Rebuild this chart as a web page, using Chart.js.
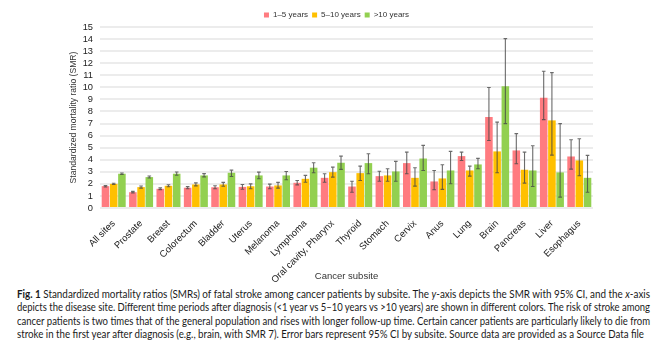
<!DOCTYPE html>
<html>
<head>
<meta charset="utf-8">
<script src="https://cdn.jsdelivr.net/npm/chart.js@4/dist/chart.umd.min.js"></script>
<style>
  html, body { margin: 0; padding: 0; background: #fff; }
  #wrap { position: relative; width: 662px; height: 348px; overflow: hidden; }
  #chart-box { position: absolute; left: 0; top: 0; width: 662px; height: 286px; }
  .cap {
    position: absolute; left: 17px; white-space: nowrap;
    font-family: Lato, "Liberation Sans", sans-serif; font-size: 10.8px; color: #1a1a1a;
    transform-origin: 0 0; line-height: 13px;
  }
</style>
</head>
<body>
<div id="wrap">
  <div id="chart-box"><canvas id="smrChart" width="662" height="286"></canvas></div>
  <div class="cap" data-w="633" style="top:287px"><b>Fig. 1</b> Standardized mortality ratios (SMRs) of fatal stroke among cancer patients by subsite. The <i>y</i>-axis depicts the SMR with 95% CI, and the <i>x</i>-axis</div>
  <div class="cap" data-w="633" style="top:300px">depicts the disease site. Different time periods after diagnosis (&lt;1 year vs 5–10 years vs &gt;10 years) are shown in different colors. The risk of stroke among</div>
  <div class="cap" data-w="633" style="top:313.5px">cancer patients is two times that of the general population and rises with longer follow-up time. Certain cancer patients are particularly likely to die from</div>
  <div class="cap" data-w="627" style="top:327px">stroke in the first year after diagnosis (e.g., brain, with SMR 7). Error bars represent 95% CI by subsite. Source data are provided as a Source Data file</div>
</div>
<script>
const subsites = ["All sites", "Prostate", "Breast", "Colorectum", "Bladder", "Uterus", "Melanoma", "Lymphoma",
  "Oral cavity, Pharynx", "Thyroid", "Stomach", "Cervix", "Anus", "Lung", "Brain", "Pancreas", "Liver", "Esophagus"];

const periods = ["1–5 years", "5–10 years", ">10 years"];

const smrEarly = [1.81, 1.31, 1.59, 1.68, 1.72, 1.75, 1.78, 2.09, 2.5, 1.78, 2.64, 3.72, 2.2, 4.3, 7.54, 4.77, 9.14, 4.27];
const ciEarlyLo = [1.75, 1.25, 1.52, 1.6, 1.6, 1.55, 1.6, 1.92, 2.14, 1.31, 2.22, 2.84, 1.51, 3.94, 5.6, 3.67, 7.32, 3.22];
const ciEarlyHi = [1.87, 1.38, 1.67, 1.77, 1.85, 1.95, 1.98, 2.28, 2.84, 2.22, 3.05, 4.63, 3.11, 4.63, 9.98, 6.16, 11.33, 5.66];

const smrMid = [2.0, 1.73, 1.84, 1.95, 1.95, 1.8, 1.87, 2.42, 2.97, 2.89, 2.7, 2.5, 2.45, 3.11, 4.69, 3.17, 7.26, 3.94];
const ciMidLo = [1.95, 1.65, 1.76, 1.83, 1.8, 1.6, 1.65, 2.14, 2.56, 2.28, 2.22, 1.81, 1.54, 2.64, 2.92, 2.06, 4.38, 2.67];
const ciMidHi = [2.05, 1.82, 1.93, 2.08, 2.12, 2.0, 2.12, 2.7, 3.39, 3.47, 3.25, 3.34, 3.58, 3.47, 7.12, 4.63, 11.22, 5.74];

const smrLate = [2.84, 2.56, 2.84, 2.7, 2.92, 2.7, 2.7, 3.34, 3.75, 3.72, 3.03, 4.1, 3.11, 3.61, 10.08, 3.11, 2.95, 2.5];
const ciLateLo = [2.78, 2.48, 2.72, 2.58, 2.61, 2.42, 2.34, 2.92, 3.2, 2.84, 2.22, 3.11, 2.01, 3.25, 6.99, 1.78, 0.9, 1.31];
const ciLateHi = [2.9, 2.65, 2.98, 2.85, 3.14, 2.97, 3.03, 3.75, 4.3, 4.5, 3.86, 5.19, 4.69, 4.11, 14.04, 5.16, 6.99, 4.36];

const yTicks = [0, 1, 2, 3, 4, 5, 6, 7, 8, 9, 10, 11, 12, 13, 14, 15];

const FONT = "'Liberation Sans', Arial, sans-serif";

// draws 95% CI whiskers on top of each bar
const errorBars = {
  id: "errorBars",
  afterDatasetsDraw(chart) {
    const ctx = chart.ctx;
    const y = chart.scales.y;
    ctx.save();
    chart.data.datasets.forEach((ds, i) => {
      const meta = chart.getDatasetMeta(i);
      meta.data.forEach((bar, j) => {
        const top = y.getPixelForValue(ds.ciHi[j]);
        const bottom = y.getPixelForValue(ds.ciLo[j]);
        ctx.strokeStyle = "rgba(70,70,70,0.8)";
        ctx.lineWidth = 1.1;
        ctx.beginPath();
        ctx.moveTo(bar.x, top);
        ctx.lineTo(bar.x, bottom);
        ctx.moveTo(bar.x - 1.8, top);
        ctx.lineTo(bar.x + 1.8, top);
        ctx.moveTo(bar.x - 1.8, bottom);
        ctx.lineTo(bar.x + 1.8, bottom);
        ctx.stroke();
      });
    });
    ctx.restore();
  }
};

// tighter space under the legend, and nudge it right over the bars
const legendTweak = {
  id: "legendTweak",
  afterInit(chart) {
    const fit = chart.legend.fit;
    chart.legend.fit = function () {
      fit.call(this);
      this.height -= 2;
    };
  },
  afterLayout(chart) {
    chart.legend.left += 6;
    chart.legend.right += 6;
  }
};

function makeDataset(label, data, lo, hi, color) {
  return {
    label,
    data,
    ciLo: lo,
    ciHi: hi,
    backgroundColor: color,
    borderWidth: 0,
    categoryPercentage: 0.9,
    barPercentage: 0.92
  };
}

new Chart(document.getElementById("smrChart").getContext("2d"), {
  type: "bar",
  data: {
    labels: subsites,
    datasets: [
      makeDataset(periods[0], smrEarly, ciEarlyLo, ciEarlyHi, "#ff7b80"),
      makeDataset(periods[1], smrMid, ciMidLo, ciMidHi, "#ffc000"),
      makeDataset(periods[2], smrLate, ciLateLo, ciLateHi, "#92d050")
    ]
  },
  options: {
    responsive: false,
    animation: false,
    devicePixelRatio: 1,
    layout: { padding: { left: 68, right: 69, top: 7, bottom: 2 } },
    plugins: {
      legend: {
        position: "top",
        labels: {
          boxWidth: 5,
          boxHeight: 5,
          padding: 4,
          font: { family: FONT, size: 8 },
          color: "#333"
        }
      },
      tooltip: { enabled: false }
    },
    scales: {
      x: {
        grid: { display: false },
        border: { display: false },
        ticks: {
          minRotation: 45,
          maxRotation: 45,
          autoSkip: false,
          padding: 2,
          font: { family: FONT, size: 9.5 },
          color: "#222"
        },
        title: {
          display: true,
          text: "Cancer subsite",
          padding: { top: 0, bottom: 2 },
          font: { family: FONT, size: 9.5 },
          color: "#333"
        },
        afterFit(scale) { scale.height = 76; }
      },
      y: {
        min: 0,
        max: 15,
        afterBuildTicks(scale) { scale.ticks = yTicks.map(v => ({ value: v })); },
        grid: { color: "#ececec", lineWidth: 2, drawTicks: false },
        border: { display: false },
        ticks: {
          autoSkip: false,
          padding: 7,
          font: { family: FONT, size: 9.3 },
          color: "#222"
        },
        title: {
          display: true,
          text: "Standardized mortality ratio (SMR)",
          padding: 0,
          font: { family: FONT, size: 8.6 },
          color: "#333"
        },
        afterFit(scale) { scale.width = 32; }
      }
    }
  },
  plugins: [errorBars, legendTweak]
});

// stretch each caption line to its column width
document.querySelectorAll(".cap").forEach(el => {
  const target = parseFloat(el.dataset.w);
  const w = el.getBoundingClientRect().width;
  el.style.transform = "scaleX(" + (target / w) + ")";
});
</script>
</body>
</html>
